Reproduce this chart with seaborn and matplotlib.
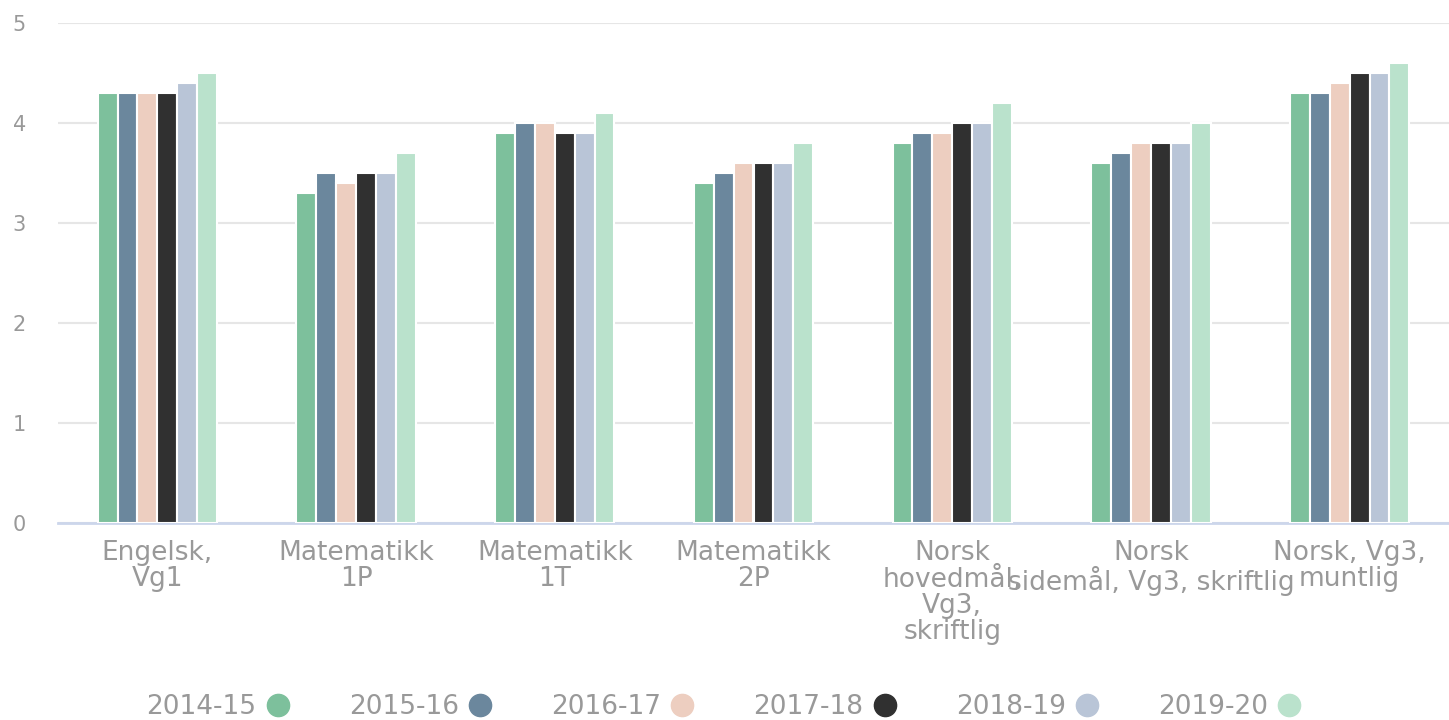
import numpy as np
import pandas as pd
import matplotlib
matplotlib.use("Agg")
import matplotlib.pyplot as plt
from matplotlib.lines import Line2D
import seaborn as sns

# ========== Data ==========
fag = ["Engelsk,\nVg1", "Matematikk\n1P", "Matematikk\n1T", "Matematikk\n2P",
       "Norsk\nhovedmål,\nVg3,\nskriftlig", "Norsk\nsidemål, Vg3, skriftlig",
       "Norsk, Vg3,\nmuntlig"]
aar = ["2014-15", "2015-16", "2016-17", "2017-18", "2018-19", "2019-20"]

v_2014 = [4.3, 3.3, 3.9, 3.4, 3.8, 3.6, 4.3]
v_2015 = [4.3, 3.5, 4.0, 3.5, 3.9, 3.7, 4.3]
v_2016 = [4.3, 3.4, 4.0, 3.6, 3.9, 3.8, 4.4]
v_2017 = [4.3, 3.5, 3.9, 3.6, 4.0, 3.8, 4.5]
v_2018 = [4.4, 3.5, 3.9, 3.6, 4.0, 3.8, 4.5]
v_2019 = [4.5, 3.7, 4.1, 3.8, 4.2, 4.0, 4.6]

farger = ["#7dc09c", "#6b879d", "#edcec0", "#303030", "#b9c5d7", "#bae2cc"]

serier = [v_2014, v_2015, v_2016, v_2017, v_2018, v_2019]
df = pd.DataFrame([
    {"fag": f, "aar": a, "snitt": v}
    for a, vals in zip(aar, serier)
    for f, v in zip(fag, vals)
])

# ========== Figur ==========
sns.set_style("white")
plt.rcParams['font.family'] = ['DejaVu Sans']
tekst = "#999999"

fig = plt.figure(figsize=(14.49, 7.2), dpi=100)
ax = fig.add_axes([58 / 1449, 1 - 523 / 720, 1 - 58 / 1449, 500 / 720])

sns.barplot(data=df, x="fag", y="snitt", hue="aar", palette=farger,
            order=fag, hue_order=aar, width=0.6, ax=ax, saturation=1,
            edgecolor="white", linewidth=1.5, legend=False, zorder=3)

ax.set_ylim(0, 5)
ax.set_xlim(-0.5, len(fag) - 0.5)
ax.set_yticks([0, 1, 2, 3, 4, 5])
ax.yaxis.grid(True, color="#e6e6e6", linewidth=1.5, zorder=0)
ax.set_axisbelow(True)
for s in ["top", "right", "left"]:
    ax.spines[s].set_visible(False)
ax.spines["bottom"].set_color("#ccd6eb")
ax.spines["bottom"].set_linewidth(2)
ax.set_xlabel("")
ax.set_ylabel("")
ax.tick_params(axis="y", length=0, pad=23, labelsize=15, labelcolor=tekst)
ax.tick_params(axis="x", length=0, pad=12, labelsize=19, labelcolor=tekst)
for lbl in ax.get_xticklabels():
    lbl.set_linespacing(1.0)

# ========== Legenda ==========
handles = [Line2D([], [], marker="o", linestyle="", markersize=16,
                  markerfacecolor=c, markeredgecolor=c) for c in farger]
leg = fig.legend(handles, aar, loc="center", bbox_to_anchor=(0.5, 1 - 707 / 720),
                 ncol=6, frameon=False, markerfirst=False, fontsize=19,
                 handletextpad=0.3, columnspacing=2.2, handlelength=1.0)
for t in leg.get_texts():
    t.set_color(tekst)

fig.savefig("out.png", dpi=100)
